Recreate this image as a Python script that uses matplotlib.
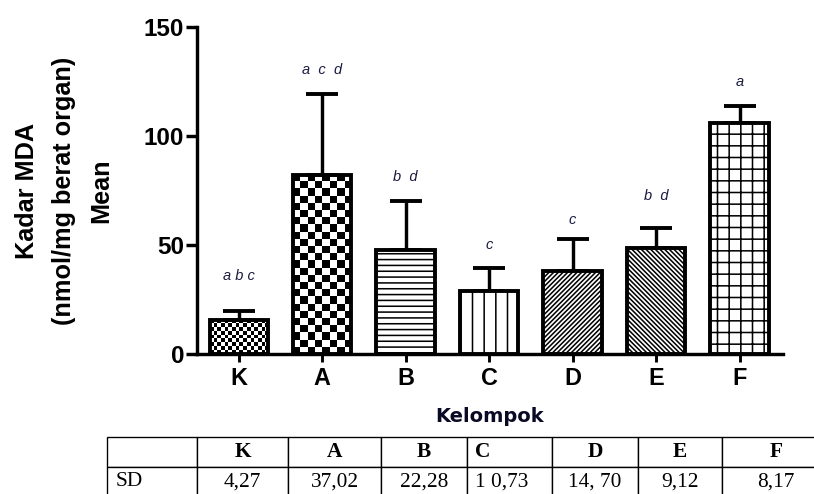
import numpy as np
import matplotlib.pyplot as plt
from matplotlib.table import Table

# data
groups = ['K', 'A', 'B', 'C', 'D', 'E', 'F']
means = [15.6, 82.3, 47.9, 28.9, 38.1, 48.8, 105.8]
sd = [4.27, 37.02, 22.28, 10.73, 14.70, 9.12, 8.17]
sd_text = ['4,27', '37,02', '22,28', '1 0,73', '14, 70', '9,12', '8,17']
sig_letters = ['a b c', 'a  c  d', 'b  d', 'c', 'c', 'b  d', 'a']
sig_y = [36, 130.5, 81, 50, 61.5, 72.5, 125]

plt.rcParams['font.family'] = ['Liberation Sans', 'DejaVu Sans']
plt.rcParams['hatch.linewidth'] = 1.6

DPI = 70
fig = plt.figure(figsize=(814 / DPI, 494 / DPI), dpi=DPI)
ax = fig.add_axes([197 / 814, 1 - 354 / 494, 586 / 814, 327 / 494])

x = np.arange(len(groups))
width = 0.7
hatches = [None, None, '--', '|', '/////', '\\\\\\\\\\', '+']
bars = ax.bar(x, means, width=width, color='white', edgecolor='black',
              linewidth=4, zorder=3)
for b, h in zip(bars, hatches):
    if h:
        b.set_hatch(h)
        b.set_facecolor('white')
    else:
        b.set_facecolor('none')

ax.errorbar(x, means, yerr=[np.zeros(len(sd)), sd], fmt='none', ecolor='black',
            elinewidth=3.5, capsize=16, capthick=4, zorder=2)

ax.set_xlim(-0.5, 6.52)
ax.set_ylim(0, 150)

# checkerboard fills for K and A
ax_h_px = ax.get_position().height * fig.get_figheight() * DPI
checker_cols = {0: 16, 1: 8}
for i, ncols in checker_cols.items():
    b = bars[i]
    cell_px = (width / 7.02) * ax.get_position().width * fig.get_figwidth() * DPI / ncols
    hpx = means[i] / 150 * ax_h_px
    nrows = max(1, int(round(hpx / cell_px)))
    board = np.add.outer(np.arange(nrows), np.arange(ncols)) % 2
    im = ax.imshow(board, cmap='gray', origin='lower', aspect='auto',
                   interpolation='nearest',
                   extent=[x[i] - width / 2, x[i] + width / 2, 0, means[i]], zorder=1.5)
    im.set_clip_path(b)
ax.set_xlim(-0.5, 6.52)
ax.set_ylim(0, 150)

for xi, txt, yi in zip(x, sig_letters, sig_y):
    ax.text(xi, yi, txt, ha='center', va='center', fontsize=15, style='italic',
            color='#1a1a40')

ax.set_yticks([0, 50, 100, 150])
ax.set_xticks(x)
ax.set_xticklabels(groups)
for s in ['top', 'right']:
    ax.spines[s].set_visible(False)
for s in ['left', 'bottom']:
    ax.spines[s].set_linewidth(3.5)
ax.tick_params(axis='y', length=11, width=3.5, labelsize=25, pad=2)
ax.tick_params(axis='x', length=8, width=3, labelsize=24, pad=5)
for lab in ax.get_xticklabels() + ax.get_yticklabels():
    lab.set_fontweight('bold')

ax.set_ylabel('Kadar MDA\n(nmol/mg berat organ)\nMean', fontsize=26,
              fontweight='bold', linespacing=1.7, va='center')
ax.yaxis.set_label_coords(-0.227, 0.5)
ax.set_xlabel('Kelompok', fontsize=20, fontweight='bold', family='DejaVu Sans',
              color='#0a0a25', labelpad=18)

# SD table below the chart
tax = fig.add_axes([107 / 814, 1 - 497 / 494, 723 / 814, 60 / 494])
tax.axis('off')
col_w = np.array([90, 91, 93, 86, 85, 86, 84, 108], dtype=float)
col_w = col_w / col_w.sum()
tbl = Table(tax, bbox=[0, 0, 1, 1])
header = [''] + groups
row = ['SD'] + sd_text
for c in range(len(header)):
    loc = 'left' if c in (0, 4) else 'center'
    cell = tbl.add_cell(0, c, col_w[c], 0.5, text=header[c], loc=loc)
    cell.get_text().set_fontweight('bold')
    cell = tbl.add_cell(1, c, col_w[c], 0.5, text=row[c], loc=loc)
for cell in tbl.get_celld().values():
    cell.set_linewidth(1.4)
    cell.get_text().set_fontfamily('Liberation Serif')
    cell.get_text().set_fontsize(22)
tbl.auto_set_font_size(False)
tax.add_table(tbl)

fig.savefig('out.png', dpi=DPI)
